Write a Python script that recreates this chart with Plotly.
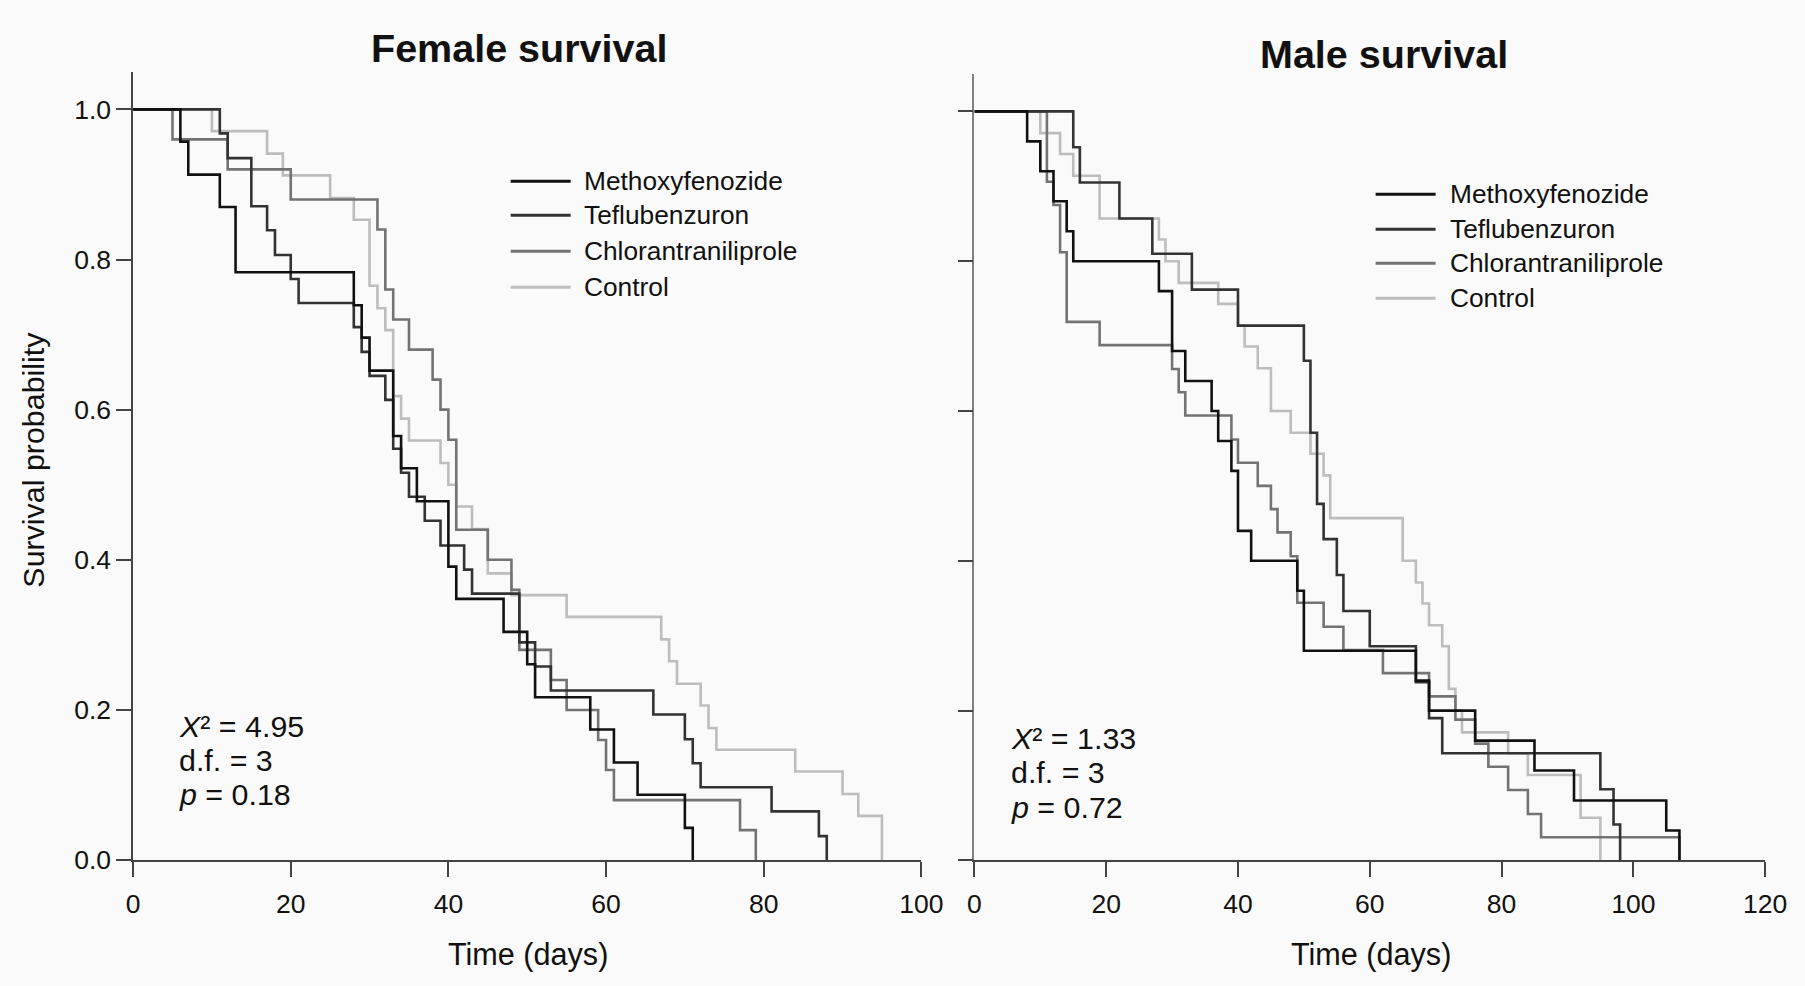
import plotly.graph_objects as go

# ---------------- data ----------------
series_names = ["Methoxyfenozide", "Teflubenzuron", "Chlorantraniliprole", "Control"]
series_colors = ["#111111", "#333333", "#737373", "#bdbdbd"]

# Female survival: event times (days) and survival after each event
f_methoxy_t = [6, 7, 11, 13, 28, 29, 30, 33, 34, 36, 40, 41, 47, 50, 51, 58, 61, 64, 70, 71]
f_methoxy_s = [0.957, 0.913, 0.870, 0.783, 0.739, 0.696, 0.652, 0.565, 0.522, 0.478, 0.391, 0.348,
               0.304, 0.261, 0.217, 0.174, 0.130, 0.087, 0.043, 0.0]
f_teflu_t = [11, 12, 15, 17, 18, 20, 21, 28, 29, 30, 32, 33, 34, 35, 37, 39, 42, 43, 49, 51, 53,
             66, 70, 71, 72, 81, 87, 88]
f_teflu_s = [0.968, 0.935, 0.871, 0.839, 0.806, 0.774, 0.742, 0.710, 0.677, 0.645, 0.613, 0.548,
             0.516, 0.484, 0.452, 0.419, 0.387, 0.355, 0.290, 0.258, 0.226, 0.194, 0.161, 0.129,
             0.097, 0.065, 0.032, 0.0]
f_chlor_t = [5, 12, 20, 31, 32, 33, 35, 38, 39, 40, 41, 45, 48, 49, 53, 55, 59, 60, 61, 77, 79]
f_chlor_s = [0.96, 0.92, 0.88, 0.84, 0.76, 0.72, 0.68, 0.64, 0.60, 0.56, 0.44, 0.40, 0.36, 0.28,
             0.24, 0.20, 0.16, 0.12, 0.08, 0.04, 0.0]
f_control_t = [10, 17, 19, 25, 28, 30, 31, 32, 33, 34, 35, 39, 40, 41, 43, 45, 48, 55, 67, 68, 69,
               72, 73, 74, 84, 90, 92, 95]
f_control_s = [0.971, 0.941, 0.912, 0.882, 0.853, 0.765, 0.735, 0.706, 0.618, 0.588, 0.559, 0.529,
               0.500, 0.471, 0.441, 0.382, 0.353, 0.324, 0.294, 0.265, 0.235, 0.206, 0.176, 0.147,
               0.118, 0.088, 0.059, 0.0]

# Male survival
m_methoxy_t = [8, 10, 12, 14, 15, 28, 30, 32, 36, 37, 39, 40, 42, 49, 50, 67, 69, 76, 85, 91, 105, 107]
m_methoxy_s = [0.96, 0.92, 0.88, 0.84, 0.80, 0.76, 0.68, 0.64, 0.60, 0.56, 0.52, 0.44, 0.40, 0.36,
               0.28, 0.24, 0.20, 0.16, 0.12, 0.08, 0.04, 0.0]
m_teflu_t = [15, 16, 22, 27, 33, 40, 50, 51, 52, 53, 55, 56, 60, 67, 69, 71, 95, 97, 98]
m_teflu_s = [0.952, 0.905, 0.857, 0.810, 0.762, 0.714, 0.667, 0.571, 0.476, 0.429, 0.381, 0.333,
             0.286, 0.238, 0.190, 0.143, 0.095, 0.048, 0.0]
m_chlor_t = [11, 12, 13, 14, 19, 30, 31, 32, 39, 40, 43, 45, 46, 48, 49, 53, 56, 62, 69, 73, 76, 78,
             81, 84, 86, 107]
m_chlor_s = [0.906, 0.875, 0.812, 0.719, 0.688, 0.656, 0.625, 0.594, 0.562, 0.531, 0.500, 0.469,
             0.438, 0.406, 0.344, 0.312, 0.281, 0.250, 0.219, 0.188, 0.156, 0.125, 0.094, 0.062,
             0.031, 0.0]
m_control_t = [10, 13, 15, 19, 28, 29, 31, 37, 40, 41, 43, 45, 48, 51, 53, 54, 65, 67, 68, 69, 71,
               72, 73, 74, 81, 84, 92, 95]
m_control_s = [0.971, 0.943, 0.914, 0.857, 0.829, 0.800, 0.771, 0.743, 0.714, 0.686, 0.657, 0.600,
               0.571, 0.543, 0.514, 0.457, 0.400, 0.371, 0.343, 0.314, 0.286, 0.229, 0.200, 0.171,
               0.143, 0.114, 0.057, 0.0]

x_ticks_f = [0, 20, 40, 60, 80, 100]
x_ticks_m = [0, 20, 40, 60, 80, 100, 120]
y_ticks = [0.0, 0.2, 0.4, 0.6, 0.8, 1.0]
y_tick_labels = ["0.0", "0.2", "0.4", "0.6", "0.8", "1.0"]

female_stats = ["<i>X</i>² = 4.95", "d.f. = 3", "<i>p</i> = 0.18"]
male_stats = ["<i>X</i>² = 1.33", "d.f. = 3", "<i>p</i> = 0.72"]

# ---------------- page geometry ----------------
W, H = 1805, 986
# the captured picture comes out slightly reduced; compensate so marks land on target pixels
SX, BX = 0.984, 6.3
SY, BY = 0.986, -0.5


def px(X):
    return ((X - BX) / SX) / W


def py(Y):
    return 1 - ((Y - BY) / SY) / H


FONT = "Arial, Liberation Sans, Helvetica, sans-serif"
AX = "#444444"

fig = go.Figure()

female = [(f_methoxy_t, f_methoxy_s), (f_teflu_t, f_teflu_s), (f_chlor_t, f_chlor_s),
          (f_control_t, f_control_s)]
male = [(m_methoxy_t, m_methoxy_s), (m_teflu_t, m_teflu_s), (m_chlor_t, m_chlor_s),
        (m_control_t, m_control_s)]

# draw lighter curves first so the darker ones sit on top
for idx in [3, 2, 1, 0]:
    t, s = female[idx]
    fig.add_trace(go.Scatter(x=[0] + t, y=[1.0] + s, mode="lines", line_shape="hv",
                             line=dict(color=series_colors[idx], width=2.6),
                             name=series_names[idx], showlegend=False, xaxis="x", yaxis="y"))
for idx in [3, 2, 1, 0]:
    t, s = male[idx]
    fig.add_trace(go.Scatter(x=[0] + t, y=[1.0] + s, mode="lines", line_shape="hv",
                             line=dict(color=series_colors[idx], width=2.6),
                             name=series_names[idx], showlegend=False, xaxis="x2", yaxis="y2"))

axis_common = dict(showgrid=False, zeroline=False, showline=True, linewidth=1.5,
                   ticks="outside", tickcolor=AX, tickwidth=1.5,
                   tickfont=dict(family=FONT, size=26.5, color="#111111"))

fig.update_layout(
    width=W, height=H, autosize=False,
    margin=dict(l=0, r=0, t=0, b=0),
    paper_bgcolor="#fafafa", plot_bgcolor="#fafafa",
    font=dict(family=FONT, color="#111111"),
    xaxis=dict(domain=[px(132.4), px(920.7)], range=[0, 100], tickvals=x_ticks_f,
               ticklen=15, ticklabelstandoff=4, anchor="y", linecolor=AX, **axis_common),
    yaxis=dict(domain=[py(860.7), py(71.4)], range=[0, 1.05], tickvals=y_ticks,
               ticktext=y_tick_labels, ticklen=15, anchor="x", linecolor=AX, **axis_common),
    xaxis2=dict(domain=[px(973.8), px(1764.5)], range=[0, 120], tickvals=x_ticks_m,
                ticklen=15, ticklabelstandoff=4, anchor="y2", linecolor=AX, **axis_common),
    yaxis2=dict(domain=[py(861), py(73.5)], range=[0, 1.05], tickvals=y_ticks,
                showticklabels=False, ticklen=15, anchor="x2", linecolor="#808080",
                **axis_common),
)

ann = []


def label(text, X, Y, size, xanchor="center", angle=0, bold=False):
    ann.append(dict(text=f"<b>{text}</b>" if bold else text, x=px(X), y=py(Y),
                    xref="paper", yref="paper", xanchor=xanchor, yanchor="middle",
                    textangle=angle, showarrow=False,
                    font=dict(size=size, family=FONT, color="#111111")))


# titles
label("Female survival", 518, 48, 39.5, bold=True)
label("Male survival", 1383, 54, 39.5, bold=True)
# axis titles
label("Survival probability", 32, 460, 30.4, angle=-90)
label("Time (days)", 527, 955, 30.6)
label("Time (days)", 1370, 955, 30.6)
# statistics
for txt, Y in zip(female_stats, [726, 760, 794]):
    label(txt, 176, Y, 30.4, xanchor="left")
for txt, Y in zip(male_stats, [738, 772, 807]):
    label(txt, 1008, Y, 30.4, xanchor="left")

# legends (line samples + text)
shapes = []
leg_left = dict(x0=510, x1=570, xt=581, ys=[181, 215, 251, 287])
leg_right = dict(x0=1375, x1=1435, xt=1447, ys=[194, 229, 263, 298])
for leg in (leg_left, leg_right):
    for i, Y in enumerate(leg["ys"]):
        shapes.append(dict(type="line", xref="paper", yref="paper", x0=px(leg["x0"]),
                           x1=px(leg["x1"]), y0=py(Y), y1=py(Y),
                           line=dict(color=series_colors[i], width=3)))
        label(series_names[i], leg["xt"], Y, 26.3, xanchor="left")

fig.update_layout(annotations=ann, shapes=shapes)

fig.write_html(
    "out.html",
    config={"displayModeBar": False},
    post_script=("document.documentElement.style.margin='0';document.body.style.margin='0';"
                 "document.documentElement.style.overflow='hidden';"
                 "document.body.style.overflow='hidden';"),
)
